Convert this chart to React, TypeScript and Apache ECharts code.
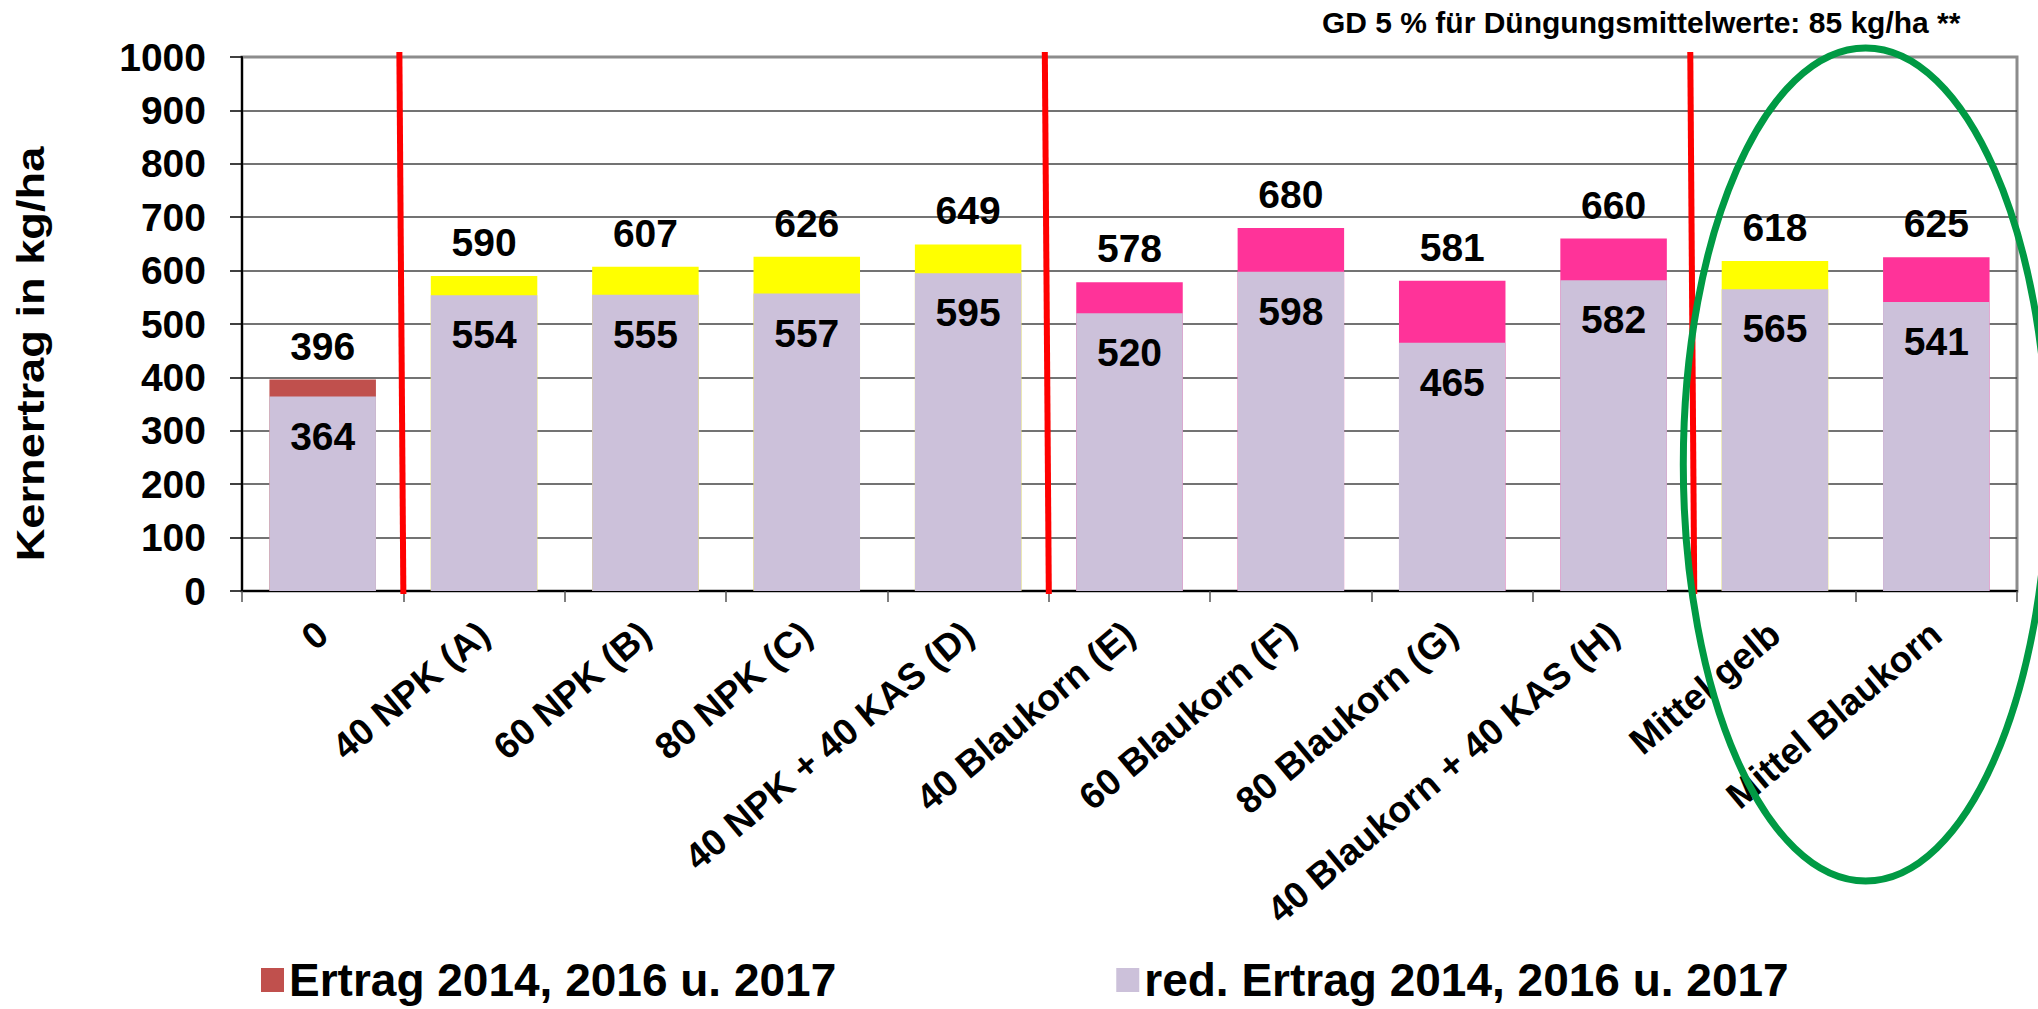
import React, { useEffect, useRef } from "react";
import * as echarts from "echarts";

const categories = [
  "0",
  "40 NPK (A)",
  "60 NPK (B)",
  "80 NPK (C)",
  "40 NPK + 40 KAS (D)",
  "40 Blaukorn (E)",
  "60 Blaukorn (F)",
  "80 Blaukorn (G)",
  "40 Blaukorn + 40 KAS (H)",
  "Mittel gelb",
  "Mittel Blaukorn",
];
const ertrag = [396, 590, 607, 626, 649, 578, 680, 581, 660, 618, 625];
const redErtrag = [364, 554, 555, 557, 595, 520, 598, 465, 582, 565, 541];
const topColors = [
  "#C0504D",
  "#FFFF00",
  "#FFFF00",
  "#FFFF00",
  "#FFFF00",
  "#FF3399",
  "#FF3399",
  "#FF3399",
  "#FF3399",
  "#FFFF00",
  "#FF3399",
];
const seriesNames = ["Ertrag 2014, 2016 u. 2017", "red. Ertrag 2014, 2016 u. 2017"];
const yMin = 0;
const yMax = 1000;
const yInterval = 100;
const separatorsAfter = [0, 4, 8];
const highlightPair = [9, 10];
const noteText = "GD 5 % für Düngungsmittelwerte: 85 kg/ha **";
const yTitle = "Kernertrag in kg/ha";

const FONT = "'Liberation Sans', Arial, Helvetica, sans-serif";

export default function App() {
  const ref = useRef<HTMLDivElement>(null);

  useEffect(() => {
    document.body.style.margin = "0";
    document.body.style.overflow = "hidden";
    if (!ref.current) return;
    const chart = echarts.init(ref.current, undefined, { renderer: "svg" });

    const option: any = {
      animation: false,
      backgroundColor: "#ffffff",
      textStyle: { fontFamily: FONT },
      grid: {
        left: 242,
        right: 21,
        top: 57,
        bottom: 418,
        show: true,
        borderColor: "#8c8c8c",
        borderWidth: 3,
        backgroundColor: "transparent",
      },
      legend: {
        data: seriesNames,
        left: 256,
        top: 952,
        itemWidth: 23,
        itemHeight: 24,
        itemGap: 280,
        icon: "rect",
        selectedMode: false,
        textStyle: { fontFamily: FONT, fontSize: 46, fontWeight: "bold", color: "#000" },
      },
      xAxis: {
        type: "category",
        data: categories,
        axisLine: { show: true, lineStyle: { color: "#000", width: 2 } },
        axisTick: { show: true, interval: 0, length: 11, lineStyle: { color: "#555", width: 1.5 } },
        axisLabel: {
          interval: 0,
          rotate: 40,
          margin: 38,
          fontFamily: FONT,
          fontSize: 37,
          fontWeight: "bold",
          color: "#000",
        },
        splitLine: { show: false },
      },
      yAxis: {
        type: "value",
        min: yMin,
        max: yMax,
        interval: yInterval,
        axisLine: { show: true, lineStyle: { color: "#000", width: 2 } },
        axisTick: { show: true, length: 12, lineStyle: { color: "#000", width: 1.5 } },
        axisLabel: {
          margin: 36,
          fontFamily: FONT,
          fontSize: 39,
          fontWeight: "bold",
          color: "#000",
          formatter: (v: number) => String(v),
        },
        splitLine: { show: true, showMaxLine: false, lineStyle: { color: "#444", width: 1.5 } },
      },
      series: [
        {
          name: seriesNames[0],
          type: "bar",
          barWidth: "66%",
          itemStyle: { color: "#C0504D" },
          data: ertrag.map((v, i) => ({ value: v, itemStyle: { color: topColors[i] } })),
          label: {
            show: true,
            position: "top",
            distance: 14,
            fontFamily: FONT,
            fontSize: 39,
            fontWeight: "bold",
            color: "#000",
          },
          z: 2,
        },
        {
          name: seriesNames[1],
          type: "bar",
          barWidth: "66%",
          barGap: "-100%",
          itemStyle: { color: "#CCC1DA" },
          data: redErtrag,
          label: {
            show: true,
            position: "insideTop",
            distance: 20,
            fontFamily: FONT,
            fontSize: 39,
            fontWeight: "bold",
            color: "#000",
          },
          z: 3,
        },
      ],
    };
    chart.setOption(option);

    const px = (i: number) => chart.convertToPixel({ xAxisIndex: 0 }, i) as number;
    const py = (v: number) => chart.convertToPixel({ yAxisIndex: 0 }, v) as number;
    const catW = px(1) - px(0);
    const yTop = py(yMax);
    const yBottom = py(yMin);

    const lines = separatorsAfter.map((i) => {
      const b = (px(i) + px(i + 1)) / 2;
      return {
        type: "line",
        z: 100,
        shape: { x1: b - 4, y1: yTop - 5, x2: b, y2: yBottom + 3 },
        style: { stroke: "#FF0000", lineWidth: 6 },
      };
    });

    const cx = (px(highlightPair[0]) + px(highlightPair[1])) / 2 + 10;
    const cy = py(237);
    const ellipse = {
      type: "ellipse",
      z: 101,
      shape: { cx, cy, rx: catW * 1.13, ry: (yBottom - yTop) * 0.78 },
      style: { fill: "none", stroke: "#009A44", lineWidth: 7 },
    };

    chart.setOption({
      graphic: [
        ...lines,
        ellipse,
        {
          type: "text",
          z: 102,
          x: 1322,
          y: 22,
          style: {
            text: noteText,
            fontFamily: FONT,
            fontSize: 30,
            fontWeight: "bold",
            fill: "#000",
            align: "left",
            verticalAlign: "middle",
            textAlign: "left",
            textVerticalAlign: "middle",
          },
        },
        {
          type: "text",
          z: 102,
          x: 31,
          y: 354,
          rotation: Math.PI / 2,
          scaleX: 1.16,
          style: {
            text: yTitle,
            fontFamily: FONT,
            fontSize: 39,
            fontWeight: "bold",
            fill: "#000",
            align: "center",
            verticalAlign: "middle",
            textAlign: "center",
            textVerticalAlign: "middle",
          },
        },
      ],
    });

    return () => chart.dispose();
  }, []);

  return <div ref={ref} style={{ width: 2038, height: 1009 }} />;
}
